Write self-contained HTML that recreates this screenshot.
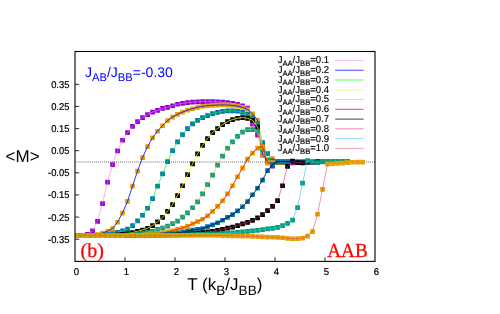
<!DOCTYPE html>
<html>
<head>
<meta charset="utf-8">
<title>Magnetization vs temperature</title>
<style>
html,body{margin:0;padding:0;background:#fff;}
body{width:500px;height:314px;overflow:hidden;font-family:"Liberation Sans",sans-serif;}
svg{display:block;will-change:transform;}
text{font-family:"Liberation Sans",sans-serif;fill:#000;text-rendering:geometricPrecision;}
.t{font-size:9.9px;stroke:#000;stroke-width:0.22px;}
.l{font-size:10px;stroke:#000;stroke-width:0.15px;}
.ls{font-size:8px;}
.big{font-size:17px;}
.bigs{font-size:13.6px;}
.ttl{font-size:14px;fill:#0000ff;}
.ttls{font-size:11.2px;fill:#0000ff;}
.ser{font-family:"Liberation Serif",serif;font-size:20px;fill:#ff0000;stroke:#ff0000;stroke-width:0.3px;}
</style>
</head>
<body>
<svg width="500" height="314" viewBox="0 0 500 314">
<rect x="0" y="0" width="500" height="314" fill="#ffffff"/>
<path d="M75 162H375" stroke="#000" stroke-width="0.8" stroke-dasharray="0.75 1.28" stroke-dashoffset="-0.6" fill="none"/>
<path d="M125 261.4v-4.2M175 261.4v-4.2M225 261.4v-4.2M275 261.4v-4.2M325 261.4v-4.2M75 84.3h4.2M75 106.4h4.2M75 128.6h4.2M75 150.7h4.2M75 172.8h4.2M75 194.9h4.2M75 217.1h4.2M75 239.2h4.2" stroke="#000" stroke-width="0.85" fill="none"/>
<path d="M75.2 233.1h4.7v4.7h-4.7zM80.2 233.1h4.7v4.7h-4.7zM85.2 232h4.7v4.7h-4.7zM90.2 228.6h4.7v4.7h-4.7zM95.2 219h4.7v4.7h-4.7zM100.2 201.2h4.7v4.7h-4.7zM105.2 179.8h4.7v4.7h-4.7zM110.2 162.2h4.7v4.7h-4.7zM115.2 148.5h4.7v4.7h-4.7zM120.2 137.9h4.7v4.7h-4.7zM125.2 130.3h4.7v4.7h-4.7zM130.2 124h4.7v4.7h-4.7zM135.2 119.2h4.7v4.7h-4.7zM140.2 115.2h4.7v4.7h-4.7zM145.2 112.3h4.7v4.7h-4.7zM150.2 109.7h4.7v4.7h-4.7zM155.2 108.1h4.7v4.7h-4.7zM160.2 106.1h4.7v4.7h-4.7zM165.2 105h4.7v4.7h-4.7zM170.2 103.4h4.7v4.7h-4.7zM175.2 101.9h4.7v4.7h-4.7zM180.2 101h4.7v4.7h-4.7zM185.2 100.3h4.7v4.7h-4.7zM190.2 99.8h4.7v4.7h-4.7zM195.2 99.5h4.7v4.7h-4.7zM200.2 99.2h4.7v4.7h-4.7zM205.2 99.2h4.7v4.7h-4.7zM210.2 99.3h4.7v4.7h-4.7zM215.2 99.5h4.7v4.7h-4.7zM220.2 99.8h4.7v4.7h-4.7zM225.2 100.3h4.7v4.7h-4.7zM230.2 101h4.7v4.7h-4.7zM235.2 102h4.7v4.7h-4.7zM240.2 103.5h4.7v4.7h-4.7zM245.2 105.7h4.7v4.7h-4.7zM250.2 121.7h4.7v4.7h-4.7zM255.2 132.7h4.7v4.7h-4.7zM260.2 152.7h4.7v4.7h-4.7zM265.2 160.2h4.7v4.7h-4.7zM270.2 163.7h4.7v4.7h-4.7zM275.2 160.2h4.7v4.7h-4.7zM280.2 160.3h4.7v4.7h-4.7zM285.2 160.4h4.7v4.7h-4.7zM290.2 160.5h4.7v4.7h-4.7zM295.2 160.1h4.7v4.7h-4.7zM300.2 160h4.7v4.7h-4.7zM305.2 160h4.7v4.7h-4.7zM310.2 159.9h4.7v4.7h-4.7zM315.2 158.9h4.7v4.7h-4.7zM320.2 159.3h4.7v4.7h-4.7z" fill="#9400d3"/>
<polyline points="77.5,235.4 82.5,235.4 87.5,234.3 92.5,230.9 97.5,221.3 102.5,203.5 107.5,182.1 112.5,164.5 117.5,150.8 122.5,140.2 127.5,132.6 132.5,126.3 137.5,121.5 142.5,117.5 147.5,114.6 152.5,112 157.5,110.4 162.5,108.4 167.5,107.3 172.5,105.7 177.5,104.2 182.5,103.3 187.5,102.6 192.5,102.1 197.5,101.8 202.5,101.5 207.5,101.5 212.5,101.6 217.5,101.8 222.5,102.1 227.5,102.6 232.5,103.3 237.5,104.3 242.5,105.8 247.5,108 252.5,124 257.5,135 262.5,155 267.5,162.5 272.5,166 277.5,162.5 282.5,162.6" fill="none" stroke="#ee82ee" stroke-width="0.6"/>
<path d="M75.2 233.1h4.7v4.7h-4.7zM80.2 233.1h4.7v4.7h-4.7zM85.2 233.1h4.7v4.7h-4.7zM90.2 233.1h4.7v4.7h-4.7zM95.2 232.2h4.7v4.7h-4.7zM100.2 230.7h4.7v4.7h-4.7zM105.2 229h4.7v4.7h-4.7zM110.2 226.2h4.7v4.7h-4.7zM115.2 219.9h4.7v4.7h-4.7zM120.2 210.7h4.7v4.7h-4.7zM125.2 199.1h4.7v4.7h-4.7zM130.2 183.8h4.7v4.7h-4.7zM135.2 168.8h4.7v4.7h-4.7zM140.2 155.3h4.7v4.7h-4.7zM145.2 144.3h4.7v4.7h-4.7zM150.2 135.5h4.7v4.7h-4.7zM155.2 128.9h4.7v4.7h-4.7zM160.2 123.4h4.7v4.7h-4.7zM165.2 118.3h4.7v4.7h-4.7zM170.2 114.7h4.7v4.7h-4.7zM175.2 112h4.7v4.7h-4.7zM180.2 109.8h4.7v4.7h-4.7zM185.2 107.8h4.7v4.7h-4.7zM190.2 106.4h4.7v4.7h-4.7zM195.2 105h4.7v4.7h-4.7zM200.2 104h4.7v4.7h-4.7zM205.2 103.4h4.7v4.7h-4.7zM210.2 103h4.7v4.7h-4.7zM215.2 102.7h4.7v4.7h-4.7zM220.2 102.6h4.7v4.7h-4.7zM225.2 102.7h4.7v4.7h-4.7zM230.2 103.1h4.7v4.7h-4.7zM235.2 103.8h4.7v4.7h-4.7zM240.2 105h4.7v4.7h-4.7zM245.2 107h4.7v4.7h-4.7zM250.2 111.5h4.7v4.7h-4.7zM255.2 117.7h4.7v4.7h-4.7zM260.2 152.7h4.7v4.7h-4.7zM265.2 157.7h4.7v4.7h-4.7zM270.2 156.2h4.7v4.7h-4.7zM275.2 159.7h4.7v4.7h-4.7zM280.2 159.7h4.7v4.7h-4.7zM285.2 159.7h4.7v4.7h-4.7z" fill="#e69f00"/>
<polyline points="77.5,235.4 82.5,235.4 87.5,235.4 92.5,235.4 97.5,234.5 102.5,233 107.5,231.3 112.5,228.5 117.5,222.2 122.5,213 127.5,201.4 132.5,186.1 137.5,171.1 142.5,157.6 147.5,146.6 152.5,137.8 157.5,131.2 162.5,125.7 167.5,120.6 172.5,117 177.5,114.3 182.5,112.1 187.5,110.1 192.5,108.7 197.5,107.3 202.5,106.3 207.5,105.7 212.5,105.3 217.5,105 222.5,104.9 227.5,105 232.5,105.4 237.5,106.1 242.5,107.3 247.5,109.3 252.5,113.8 257.5,120 262.5,155 267.5,160 272.5,158.5 277.5,162 282.5,162" fill="none" stroke="#0000ff" stroke-width="0.8"/>
<path d="M75.2 233.1h4.7v4.7h-4.7zM80.2 233.1h4.7v4.7h-4.7zM85.2 233.1h4.7v4.7h-4.7zM90.2 233.1h4.7v4.7h-4.7zM95.2 233.1h4.7v4.7h-4.7zM100.2 233.1h4.7v4.7h-4.7zM105.2 232.3h4.7v4.7h-4.7zM110.2 231.2h4.7v4.7h-4.7zM115.2 229.9h4.7v4.7h-4.7zM120.2 228.6h4.7v4.7h-4.7zM125.2 226.8h4.7v4.7h-4.7zM130.2 223.3h4.7v4.7h-4.7zM135.2 218.6h4.7v4.7h-4.7zM140.2 212.9h4.7v4.7h-4.7zM145.2 205.9h4.7v4.7h-4.7zM150.2 196.2h4.7v4.7h-4.7zM155.2 183.8h4.7v4.7h-4.7zM160.2 171.6h4.7v4.7h-4.7zM165.2 159.3h4.7v4.7h-4.7zM170.2 148.3h4.7v4.7h-4.7zM175.2 139.5h4.7v4.7h-4.7zM180.2 132.3h4.7v4.7h-4.7zM185.2 126.3h4.7v4.7h-4.7zM190.2 121.6h4.7v4.7h-4.7zM195.2 118.1h4.7v4.7h-4.7zM200.2 115.3h4.7v4.7h-4.7zM205.2 113.2h4.7v4.7h-4.7zM210.2 111.3h4.7v4.7h-4.7zM215.2 110h4.7v4.7h-4.7zM220.2 109h4.7v4.7h-4.7zM225.2 108.5h4.7v4.7h-4.7zM230.2 108.5h4.7v4.7h-4.7zM235.2 108.9h4.7v4.7h-4.7zM240.2 110.1h4.7v4.7h-4.7zM245.2 111.9h4.7v4.7h-4.7zM250.2 115.5h4.7v4.7h-4.7zM255.2 121h4.7v4.7h-4.7zM260.2 140.2h4.7v4.7h-4.7zM265.2 151.2h4.7v4.7h-4.7zM270.2 159.7h4.7v4.7h-4.7zM275.2 159.7h4.7v4.7h-4.7zM280.2 159.7h4.7v4.7h-4.7zM285.2 159.7h4.7v4.7h-4.7z" fill="#0072b2"/>
<polyline points="77.5,235.4 82.5,235.4 87.5,235.4 92.5,235.4 97.5,235.4 102.5,235.4 107.5,234.6 112.5,233.5 117.5,232.2 122.5,230.9 127.5,229.1 132.5,225.6 137.5,220.9 142.5,215.2 147.5,208.2 152.5,198.5 157.5,186.1 162.5,173.9 167.5,161.6 172.5,150.6 177.5,141.8 182.5,134.6 187.5,128.6 192.5,123.9 197.5,120.4 202.5,117.6 207.5,115.5 212.5,113.6 217.5,112.3 222.5,111.3 227.5,110.8 232.5,110.8 237.5,111.2 242.5,112.4 247.5,114.2 252.5,117.8 257.5,123.3 262.5,142.5 267.5,153.5 272.5,162 277.5,162 282.5,162" fill="none" stroke="#00ff00" stroke-width="0.7"/>
<path d="M75.2 233.1h4.7v4.7h-4.7zM80.2 233.1h4.7v4.7h-4.7zM85.2 233.1h4.7v4.7h-4.7zM90.2 233.1h4.7v4.7h-4.7zM95.2 233.1h4.7v4.7h-4.7zM100.2 233.1h4.7v4.7h-4.7zM105.2 233.1h4.7v4.7h-4.7zM110.2 233.1h4.7v4.7h-4.7zM115.2 232.6h4.7v4.7h-4.7zM120.2 232.1h4.7v4.7h-4.7zM125.2 231.3h4.7v4.7h-4.7zM130.2 230.2h4.7v4.7h-4.7zM135.2 229h4.7v4.7h-4.7zM140.2 227.7h4.7v4.7h-4.7zM145.2 226h4.7v4.7h-4.7zM150.2 223.3h4.7v4.7h-4.7zM155.2 219.5h4.7v4.7h-4.7zM160.2 215.1h4.7v4.7h-4.7zM165.2 209h4.7v4.7h-4.7zM170.2 202.2h4.7v4.7h-4.7zM175.2 193.3h4.7v4.7h-4.7zM180.2 183.4h4.7v4.7h-4.7zM185.2 172.2h4.7v4.7h-4.7zM190.2 161.6h4.7v4.7h-4.7zM195.2 151.5h4.7v4.7h-4.7zM200.2 143.1h4.7v4.7h-4.7zM205.2 136.3h4.7v4.7h-4.7zM210.2 130.2h4.7v4.7h-4.7zM215.2 126.2h4.7v4.7h-4.7zM220.2 122.3h4.7v4.7h-4.7zM225.2 119.3h4.7v4.7h-4.7zM230.2 117.3h4.7v4.7h-4.7zM235.2 115.9h4.7v4.7h-4.7zM240.2 115.2h4.7v4.7h-4.7zM245.2 116h4.7v4.7h-4.7zM250.2 117.9h4.7v4.7h-4.7zM255.2 124.4h4.7v4.7h-4.7zM260.2 143.7h4.7v4.7h-4.7zM265.2 158.2h4.7v4.7h-4.7zM270.2 159.7h4.7v4.7h-4.7zM275.2 159.7h4.7v4.7h-4.7zM280.2 159.7h4.7v4.7h-4.7zM285.2 159.7h4.7v4.7h-4.7z" fill="#000000"/>
<polyline points="77.5,235.4 82.5,235.4 87.5,235.4 92.5,235.4 97.5,235.4 102.5,235.4 107.5,235.4 112.5,235.4 117.5,234.9 122.5,234.4 127.5,233.6 132.5,232.5 137.5,231.3 142.5,230 147.5,228.3 152.5,225.6 157.5,221.8 162.5,217.4 167.5,211.3 172.5,204.5 177.5,195.6 182.5,185.7 187.5,174.5 192.5,163.9 197.5,153.8 202.5,145.4 207.5,138.6 212.5,132.5 217.5,128.5 222.5,124.6 227.5,121.6 232.5,119.6 237.5,118.2 242.5,117.5 247.5,118.3 252.5,120.2 257.5,126.7 262.5,146 267.5,160.5 272.5,162 277.5,162 282.5,162" fill="none" stroke="#ffff00" stroke-width="0.8"/>
<path d="M75.2 233.1h4.7v4.7h-4.7zM80.2 233.1h4.7v4.7h-4.7zM85.2 233.1h4.7v4.7h-4.7zM90.2 233.1h4.7v4.7h-4.7zM95.2 233.1h4.7v4.7h-4.7zM100.2 233.1h4.7v4.7h-4.7zM105.2 233.1h4.7v4.7h-4.7zM110.2 233.1h4.7v4.7h-4.7zM115.2 233.1h4.7v4.7h-4.7zM120.2 233.1h4.7v4.7h-4.7zM125.2 232.8h4.7v4.7h-4.7zM130.2 232.4h4.7v4.7h-4.7zM135.2 231.8h4.7v4.7h-4.7zM140.2 230.9h4.7v4.7h-4.7zM145.2 229.9h4.7v4.7h-4.7zM150.2 229.1h4.7v4.7h-4.7zM155.2 227h4.7v4.7h-4.7zM160.2 225.7h4.7v4.7h-4.7zM165.2 223.7h4.7v4.7h-4.7zM170.2 221.2h4.7v4.7h-4.7zM175.2 218.7h4.7v4.7h-4.7zM180.2 214.8h4.7v4.7h-4.7zM185.2 210.6h4.7v4.7h-4.7zM190.2 205.4h4.7v4.7h-4.7zM195.2 199.6h4.7v4.7h-4.7zM200.2 191.5h4.7v4.7h-4.7zM205.2 182.2h4.7v4.7h-4.7zM210.2 172.8h4.7v4.7h-4.7zM215.2 162.8h4.7v4.7h-4.7zM220.2 153.7h4.7v4.7h-4.7zM225.2 145.9h4.7v4.7h-4.7zM230.2 139.5h4.7v4.7h-4.7zM235.2 134.1h4.7v4.7h-4.7zM240.2 129.8h4.7v4.7h-4.7zM245.2 127.3h4.7v4.7h-4.7zM250.2 127.3h4.7v4.7h-4.7zM255.2 129.1h4.7v4.7h-4.7zM260.2 147.7h4.7v4.7h-4.7zM265.2 157.7h4.7v4.7h-4.7zM270.2 159.7h4.7v4.7h-4.7zM275.2 159.7h4.7v4.7h-4.7zM280.2 159.7h4.7v4.7h-4.7zM285.2 159.7h4.7v4.7h-4.7z" fill="#009e73"/>
<polyline points="77.5,235.4 82.5,235.4 87.5,235.4 92.5,235.4 97.5,235.4 102.5,235.4 107.5,235.4 112.5,235.4 117.5,235.4 122.5,235.4 127.5,235.1 132.5,234.7 137.5,234.1 142.5,233.2 147.5,232.2 152.5,231.4 157.5,229.3 162.5,228 167.5,226 172.5,223.5 177.5,221 182.5,217.1 187.5,212.9 192.5,207.7 197.5,201.9 202.5,193.8 207.5,184.5 212.5,175.1 217.5,165.1 222.5,156 227.5,148.2 232.5,141.8 237.5,136.4 242.5,132.1 247.5,129.6 252.5,129.6 257.5,131.4 262.5,150 267.5,160 272.5,162 277.5,162 282.5,162" fill="none" stroke="#ffa83a" stroke-width="0.6"/>
<path d="M75.2 233.1h4.7v4.7h-4.7zM80.2 233.1h4.7v4.7h-4.7zM85.2 233.1h4.7v4.7h-4.7zM90.2 233.1h4.7v4.7h-4.7zM95.2 233.1h4.7v4.7h-4.7zM100.2 233.1h4.7v4.7h-4.7zM105.2 233.1h4.7v4.7h-4.7zM110.2 233.1h4.7v4.7h-4.7zM115.2 233.1h4.7v4.7h-4.7zM120.2 233.1h4.7v4.7h-4.7zM125.2 233.1h4.7v4.7h-4.7zM130.2 233.1h4.7v4.7h-4.7zM135.2 233h4.7v4.7h-4.7zM140.2 232.9h4.7v4.7h-4.7zM145.2 232.6h4.7v4.7h-4.7zM150.2 232.2h4.7v4.7h-4.7zM155.2 231.6h4.7v4.7h-4.7zM160.2 230.7h4.7v4.7h-4.7zM165.2 229.6h4.7v4.7h-4.7zM170.2 228.4h4.7v4.7h-4.7zM175.2 227h4.7v4.7h-4.7zM180.2 225.7h4.7v4.7h-4.7zM185.2 224.1h4.7v4.7h-4.7zM190.2 221.5h4.7v4.7h-4.7zM195.2 219.2h4.7v4.7h-4.7zM200.2 216.9h4.7v4.7h-4.7zM205.2 213.5h4.7v4.7h-4.7zM210.2 209h4.7v4.7h-4.7zM215.2 204.1h4.7v4.7h-4.7zM220.2 198.6h4.7v4.7h-4.7zM225.2 191.5h4.7v4.7h-4.7zM230.2 183.4h4.7v4.7h-4.7zM235.2 174.4h4.7v4.7h-4.7zM240.2 165.7h4.7v4.7h-4.7zM245.2 156.7h4.7v4.7h-4.7zM250.2 150.7h4.7v4.7h-4.7zM255.2 145.7h4.7v4.7h-4.7zM260.2 144.2h4.7v4.7h-4.7zM265.2 160.7h4.7v4.7h-4.7zM270.2 160.2h4.7v4.7h-4.7zM275.2 159.9h4.7v4.7h-4.7zM280.2 159.7h4.7v4.7h-4.7zM285.2 159.7h4.7v4.7h-4.7z" fill="#e69f00"/>
<polyline points="77.5,235.4 82.5,235.4 87.5,235.4 92.5,235.4 97.5,235.4 102.5,235.4 107.5,235.4 112.5,235.4 117.5,235.4 122.5,235.4 127.5,235.4 132.5,235.4 137.5,235.4 142.5,235.2 147.5,234.9 152.5,234.5 157.5,233.9 162.5,233 167.5,231.9 172.5,230.7 177.5,229.3 182.5,228 187.5,226.4 192.5,223.8 197.5,221.5 202.5,219.2 207.5,215.8 212.5,211.3 217.5,206.4 222.5,200.9 227.5,193.8 232.5,185.7 237.5,176.7 242.5,168 247.5,159 252.5,153 257.5,148 262.5,146.5 267.5,163 272.5,162.5 277.5,162.2 282.5,162.1" fill="none" stroke="#ff0000" stroke-width="0.8"/>
<path d="M75.2 233.1h4.7v4.7h-4.7zM80.2 233.1h4.7v4.7h-4.7zM85.2 233.1h4.7v4.7h-4.7zM90.2 233.1h4.7v4.7h-4.7zM95.2 233.1h4.7v4.7h-4.7zM100.2 233.1h4.7v4.7h-4.7zM105.2 233.1h4.7v4.7h-4.7zM110.2 233.1h4.7v4.7h-4.7zM115.2 233.1h4.7v4.7h-4.7zM120.2 233.1h4.7v4.7h-4.7zM125.2 233.1h4.7v4.7h-4.7zM130.2 233.1h4.7v4.7h-4.7zM135.2 233.1h4.7v4.7h-4.7zM140.2 233.1h4.7v4.7h-4.7zM145.2 233h4.7v4.7h-4.7zM150.2 232.9h4.7v4.7h-4.7zM155.2 232.7h4.7v4.7h-4.7zM160.2 232.4h4.7v4.7h-4.7zM165.2 232h4.7v4.7h-4.7zM170.2 231.5h4.7v4.7h-4.7zM175.2 230.8h4.7v4.7h-4.7zM180.2 229.9h4.7v4.7h-4.7zM185.2 228.8h4.7v4.7h-4.7zM190.2 227.8h4.7v4.7h-4.7zM195.2 227.1h4.7v4.7h-4.7zM200.2 226.2h4.7v4.7h-4.7zM205.2 224.3h4.7v4.7h-4.7zM210.2 222.5h4.7v4.7h-4.7zM215.2 220.4h4.7v4.7h-4.7zM220.2 217.9h4.7v4.7h-4.7zM225.2 215h4.7v4.7h-4.7zM230.2 212.3h4.7v4.7h-4.7zM235.2 208.6h4.7v4.7h-4.7zM240.2 204.4h4.7v4.7h-4.7zM245.2 199.3h4.7v4.7h-4.7zM250.2 192.4h4.7v4.7h-4.7zM255.2 185.9h4.7v4.7h-4.7zM260.2 177.7h4.7v4.7h-4.7zM265.2 168.2h4.7v4.7h-4.7zM270.2 162.2h4.7v4.7h-4.7zM275.2 159.2h4.7v4.7h-4.7zM280.2 159.2h4.7v4.7h-4.7zM285.2 159.2h4.7v4.7h-4.7zM290.2 159.2h4.7v4.7h-4.7zM295.2 159.3h4.7v4.7h-4.7zM300.2 159.3h4.7v4.7h-4.7zM305.2 159.3h4.7v4.7h-4.7z" fill="#0072b2"/>
<polyline points="77.5,235.4 82.5,235.4 87.5,235.4 92.5,235.4 97.5,235.4 102.5,235.4 107.5,235.4 112.5,235.4 117.5,235.4 122.5,235.4 127.5,235.4 132.5,235.4 137.5,235.4 142.5,235.4 147.5,235.4 152.5,235.2 157.5,235 162.5,234.7 167.5,234.3 172.5,233.8 177.5,233.1 182.5,232.2 187.5,231.1 192.5,230.1 197.5,229.4 202.5,228.5 207.5,226.6 212.5,224.8 217.5,222.7 222.5,220.2 227.5,217.3 232.5,214.6 237.5,210.9 242.5,206.7 247.5,201.6 252.5,194.7 257.5,188.2 262.5,180 267.5,170.5 272.5,164.5 277.5,161.5 282.5,161.5 287.5,161.5 292.5,161.6 297.5,161.6" fill="none" stroke="#000000" stroke-width="0.8"/>
<path d="M75.2 233.1h4.7v4.7h-4.7zM80.2 233.1h4.7v4.7h-4.7zM85.2 233.1h4.7v4.7h-4.7zM90.2 233.1h4.7v4.7h-4.7zM95.2 233.1h4.7v4.7h-4.7zM100.2 233.1h4.7v4.7h-4.7zM105.2 233.1h4.7v4.7h-4.7zM110.2 233.1h4.7v4.7h-4.7zM115.2 233.1h4.7v4.7h-4.7zM120.2 233.1h4.7v4.7h-4.7zM125.2 233.1h4.7v4.7h-4.7zM130.2 233.1h4.7v4.7h-4.7zM135.2 233.1h4.7v4.7h-4.7zM140.2 233.1h4.7v4.7h-4.7zM145.2 233.1h4.7v4.7h-4.7zM150.2 233.1h4.7v4.7h-4.7zM155.2 233h4.7v4.7h-4.7zM160.2 232.9h4.7v4.7h-4.7zM165.2 232.7h4.7v4.7h-4.7zM170.2 232.6h4.7v4.7h-4.7zM175.2 232.4h4.7v4.7h-4.7zM180.2 232.2h4.7v4.7h-4.7zM185.2 231.8h4.7v4.7h-4.7zM190.2 231.4h4.7v4.7h-4.7zM195.2 230.9h4.7v4.7h-4.7zM200.2 230.3h4.7v4.7h-4.7zM205.2 229.6h4.7v4.7h-4.7zM210.2 228.9h4.7v4.7h-4.7zM215.2 228h4.7v4.7h-4.7zM220.2 227h4.7v4.7h-4.7zM225.2 225.8h4.7v4.7h-4.7zM230.2 224.8h4.7v4.7h-4.7zM235.2 223.3h4.7v4.7h-4.7zM240.2 221.5h4.7v4.7h-4.7zM245.2 220h4.7v4.7h-4.7zM250.2 218.1h4.7v4.7h-4.7zM255.2 215.6h4.7v4.7h-4.7zM260.2 212.3h4.7v4.7h-4.7zM265.2 208.3h4.7v4.7h-4.7zM270.2 204.1h4.7v4.7h-4.7zM275.2 198.2h4.7v4.7h-4.7zM280.2 183.4h4.7v4.7h-4.7zM285.2 164h4.7v4.7h-4.7zM290.2 158.7h4.7v4.7h-4.7zM295.2 160.3h4.7v4.7h-4.7zM300.2 160.5h4.7v4.7h-4.7zM305.2 159.9h4.7v4.7h-4.7zM310.2 159.7h4.7v4.7h-4.7zM315.2 159.7h4.7v4.7h-4.7z" fill="#000000"/>
<polyline points="77.5,235.4 82.5,235.4 87.5,235.4 92.5,235.4 97.5,235.4 102.5,235.4 107.5,235.4 112.5,235.4 117.5,235.4 122.5,235.4 127.5,235.4 132.5,235.4 137.5,235.4 142.5,235.4 147.5,235.4 152.5,235.4 157.5,235.4 162.5,235.2 167.5,235.1 172.5,234.9 177.5,234.7 182.5,234.5 187.5,234.1 192.5,233.7 197.5,233.2 202.5,232.6 207.5,231.9 212.5,231.2 217.5,230.3 222.5,229.3 227.5,228.1 232.5,227.1 237.5,225.6 242.5,223.8 247.5,222.3 252.5,220.4 257.5,217.9 262.5,214.6 267.5,210.6 272.5,206.4 277.5,200.5 282.5,185.7 287.5,166.3 292.5,161 297.5,162.6 302.5,162.8 307.5,162.2" fill="none" stroke="#dc2a64" stroke-width="0.6"/>
<path d="M75.2 232.9h4.7v4.7h-4.7zM80.2 232.9h4.7v4.7h-4.7zM85.2 232.9h4.7v4.7h-4.7zM90.2 232.9h4.7v4.7h-4.7zM95.2 232.9h4.7v4.7h-4.7zM100.2 232.9h4.7v4.7h-4.7zM105.2 232.9h4.7v4.7h-4.7zM110.2 232.9h4.7v4.7h-4.7zM115.2 232.9h4.7v4.7h-4.7zM120.2 232.9h4.7v4.7h-4.7zM125.2 232.9h4.7v4.7h-4.7zM130.2 232.9h4.7v4.7h-4.7zM135.2 232.9h4.7v4.7h-4.7zM140.2 232.9h4.7v4.7h-4.7zM145.2 232.9h4.7v4.7h-4.7zM150.2 232.9h4.7v4.7h-4.7zM155.2 232.9h4.7v4.7h-4.7zM160.2 232.9h4.7v4.7h-4.7zM165.2 232.8h4.7v4.7h-4.7zM170.2 232.8h4.7v4.7h-4.7zM175.2 232.7h4.7v4.7h-4.7zM180.2 232.6h4.7v4.7h-4.7zM185.2 232.4h4.7v4.7h-4.7zM190.2 232.3h4.7v4.7h-4.7zM195.2 232.1h4.7v4.7h-4.7zM200.2 231.9h4.7v4.7h-4.7zM205.2 231.8h4.7v4.7h-4.7zM210.2 231.6h4.7v4.7h-4.7zM215.2 231.4h4.7v4.7h-4.7zM220.2 231.1h4.7v4.7h-4.7zM225.2 230.8h4.7v4.7h-4.7zM230.2 230.5h4.7v4.7h-4.7zM235.2 230h4.7v4.7h-4.7zM240.2 229.6h4.7v4.7h-4.7zM245.2 229.1h4.7v4.7h-4.7zM250.2 228.6h4.7v4.7h-4.7zM255.2 228h4.7v4.7h-4.7zM260.2 227.3h4.7v4.7h-4.7zM265.2 226.5h4.7v4.7h-4.7zM270.2 226h4.7v4.7h-4.7zM275.2 225h4.7v4.7h-4.7zM280.2 223.3h4.7v4.7h-4.7zM285.2 221.1h4.7v4.7h-4.7zM290.2 217.7h4.7v4.7h-4.7zM295.2 205.3h4.7v4.7h-4.7zM300.2 180.8h4.7v4.7h-4.7zM305.2 158.2h4.7v4.7h-4.7zM310.2 159.3h4.7v4.7h-4.7zM315.2 160.3h4.7v4.7h-4.7zM320.2 159.5h4.7v4.7h-4.7zM325.2 159h4.7v4.7h-4.7zM330.2 159h4.7v4.7h-4.7zM335.2 159h4.7v4.7h-4.7zM340.2 158.9h4.7v4.7h-4.7zM345.2 158.9h4.7v4.7h-4.7z" fill="#009e73"/>
<polyline points="77.5,235.2 82.5,235.2 87.5,235.2 92.5,235.2 97.5,235.2 102.5,235.2 107.5,235.2 112.5,235.2 117.5,235.2 122.5,235.2 127.5,235.2 132.5,235.2 137.5,235.2 142.5,235.2 147.5,235.2 152.5,235.2 157.5,235.2 162.5,235.2 167.5,235.2 172.5,235.1 177.5,235 182.5,234.9 187.5,234.8 192.5,234.6 197.5,234.4 202.5,234.2 207.5,234.1 212.5,233.9 217.5,233.7 222.5,233.4 227.5,233.1 232.5,232.8 237.5,232.4 242.5,231.9 247.5,231.4 252.5,230.9 257.5,230.3 262.5,229.6 267.5,228.8 272.5,228.3 277.5,227.3 282.5,225.6 287.5,223.4 292.5,220 297.5,207.6 302.5,183.1 307.5,160.5 312.5,161.6 317.5,162.6" fill="none" stroke="#30b8f8" stroke-width="0.6"/>
<path d="M75.2 233.2h4.7v4.7h-4.7zM80.2 233.2h4.7v4.7h-4.7zM85.2 233.2h4.7v4.7h-4.7zM90.2 233.2h4.7v4.7h-4.7zM95.2 233.2h4.7v4.7h-4.7zM100.2 233.2h4.7v4.7h-4.7zM105.2 233.2h4.7v4.7h-4.7zM110.2 233.2h4.7v4.7h-4.7zM115.2 233.2h4.7v4.7h-4.7zM120.2 233.2h4.7v4.7h-4.7zM125.2 233.1h4.7v4.7h-4.7zM130.2 233.1h4.7v4.7h-4.7zM135.2 233.1h4.7v4.7h-4.7zM140.2 233.1h4.7v4.7h-4.7zM145.2 233.1h4.7v4.7h-4.7zM150.2 233.1h4.7v4.7h-4.7zM155.2 233.1h4.7v4.7h-4.7zM160.2 233.1h4.7v4.7h-4.7zM165.2 233.1h4.7v4.7h-4.7zM170.2 233.1h4.7v4.7h-4.7zM175.2 233.1h4.7v4.7h-4.7zM180.2 233.1h4.7v4.7h-4.7zM185.2 233.1h4.7v4.7h-4.7zM190.2 233.1h4.7v4.7h-4.7zM195.2 233.1h4.7v4.7h-4.7zM200.2 233.1h4.7v4.7h-4.7zM205.2 233.1h4.7v4.7h-4.7zM210.2 233.1h4.7v4.7h-4.7zM215.2 233.1h4.7v4.7h-4.7zM220.2 233.2h4.7v4.7h-4.7zM225.2 233.3h4.7v4.7h-4.7zM230.2 233.5h4.7v4.7h-4.7zM235.2 233.6h4.7v4.7h-4.7zM240.2 233.8h4.7v4.7h-4.7zM245.2 233.9h4.7v4.7h-4.7zM250.2 234.1h4.7v4.7h-4.7zM255.2 234.3h4.7v4.7h-4.7zM260.2 234.5h4.7v4.7h-4.7zM265.2 234.7h4.7v4.7h-4.7zM270.2 234.9h4.7v4.7h-4.7zM275.2 235.1h4.7v4.7h-4.7zM280.2 235.4h4.7v4.7h-4.7zM285.2 236.1h4.7v4.7h-4.7zM290.2 236.4h4.7v4.7h-4.7zM295.2 236.2h4.7v4.7h-4.7zM300.2 235.8h4.7v4.7h-4.7zM305.2 233.8h4.7v4.7h-4.7zM310.2 229.2h4.7v4.7h-4.7zM315.2 211.9h4.7v4.7h-4.7zM320.2 187.1h4.7v4.7h-4.7zM325.2 161.8h4.7v4.7h-4.7zM330.2 161.4h4.7v4.7h-4.7zM335.2 161h4.7v4.7h-4.7zM340.2 160.7h4.7v4.7h-4.7zM345.2 160.3h4.7v4.7h-4.7zM350.2 159.9h4.7v4.7h-4.7zM355.2 159.7h4.7v4.7h-4.7zM360.2 159.7h4.7v4.7h-4.7z" fill="#e69f00"/>
<polyline points="77.5,235.5 82.5,235.5 87.5,235.5 92.5,235.5 97.5,235.5 102.5,235.5 107.5,235.5 112.5,235.5 117.5,235.5 122.5,235.5 127.5,235.5 132.5,235.5 137.5,235.5 142.5,235.5 147.5,235.5 152.5,235.5 157.5,235.5 162.5,235.4 167.5,235.4 172.5,235.4 177.5,235.4 182.5,235.4 187.5,235.4 192.5,235.4 197.5,235.4 202.5,235.4 207.5,235.4 212.5,235.4 217.5,235.4 222.5,235.5 227.5,235.6 232.5,235.8 237.5,235.9 242.5,236.1 247.5,236.3 252.5,236.4 257.5,236.6 262.5,236.8 267.5,237 272.5,237.2 277.5,237.4 282.5,237.7 287.5,238.4 292.5,238.7 297.5,238.5 302.5,238.1 307.5,236.1 312.5,231.5 317.5,214.2 322.5,189.4 327.5,164.1" fill="none" stroke="#f03c50" stroke-width="0.55"/>
<rect x="75" y="51.5" width="300" height="209.9" fill="none" stroke="#000" stroke-width="1.1"/>
<text transform="translate(69.4 87.8) scale(0.95 1)" text-anchor="end" class="t">0.35</text>
<text transform="translate(69.4 109.9) scale(0.95 1)" text-anchor="end" class="t">0.25</text>
<text transform="translate(69.4 132.1) scale(0.95 1)" text-anchor="end" class="t">0.15</text>
<text transform="translate(69.4 154.2) scale(0.95 1)" text-anchor="end" class="t">0.05</text>
<text transform="translate(69.4 176.3) scale(0.95 1)" text-anchor="end" class="t">-0.05</text>
<text transform="translate(69.4 198.4) scale(0.95 1)" text-anchor="end" class="t">-0.15</text>
<text transform="translate(69.4 220.6) scale(0.95 1)" text-anchor="end" class="t">-0.25</text>
<text transform="translate(69.4 242.7) scale(0.95 1)" text-anchor="end" class="t">-0.35</text>
<text transform="translate(76.3 274.8) scale(0.97 1)" text-anchor="middle" class="t">0</text>
<text transform="translate(126.3 274.8) scale(0.97 1)" text-anchor="middle" class="t">1</text>
<text transform="translate(176.3 274.8) scale(0.97 1)" text-anchor="middle" class="t">2</text>
<text transform="translate(226.3 274.8) scale(0.97 1)" text-anchor="middle" class="t">3</text>
<text transform="translate(276.3 274.8) scale(0.97 1)" text-anchor="middle" class="t">4</text>
<text transform="translate(326.3 274.8) scale(0.97 1)" text-anchor="middle" class="t">5</text>
<text transform="translate(376.3 274.8) scale(0.97 1)" text-anchor="middle" class="t">6</text>
<text transform="translate(329.1 63.4) scale(0.955 1)" text-anchor="end" class="l">J<tspan class="ls" dy="2.4">AA</tspan><tspan dy="-2.4">/J</tspan><tspan class="ls" dy="2.4">BB</tspan><tspan dy="-2.4">=0.1</tspan></text>
<path d="M335.2 60.5H363.6" stroke="#ee82ee" stroke-width="0.5499999999999999" fill="none"/>
<text transform="translate(329.1 73.1) scale(0.955 1)" text-anchor="end" class="l">J<tspan class="ls" dy="2.4">AA</tspan><tspan dy="-2.4">/J</tspan><tspan class="ls" dy="2.4">BB</tspan><tspan dy="-2.4">=0.2</tspan></text>
<path d="M335.2 70.2H363.6" stroke="#0000ff" stroke-width="0.75" fill="none"/>
<text transform="translate(329.1 82.9) scale(0.955 1)" text-anchor="end" class="l">J<tspan class="ls" dy="2.4">AA</tspan><tspan dy="-2.4">/J</tspan><tspan class="ls" dy="2.4">BB</tspan><tspan dy="-2.4">=0.3</tspan></text>
<path d="M335.2 80H363.6" stroke="#00ff00" stroke-width="0.6499999999999999" fill="none"/>
<text transform="translate(329.1 92.7) scale(0.955 1)" text-anchor="end" class="l">J<tspan class="ls" dy="2.4">AA</tspan><tspan dy="-2.4">/J</tspan><tspan class="ls" dy="2.4">BB</tspan><tspan dy="-2.4">=0.4</tspan></text>
<path d="M335.2 89.8H363.6" stroke="#ffff00" stroke-width="0.75" fill="none"/>
<text transform="translate(329.1 102.4) scale(0.955 1)" text-anchor="end" class="l">J<tspan class="ls" dy="2.4">AA</tspan><tspan dy="-2.4">/J</tspan><tspan class="ls" dy="2.4">BB</tspan><tspan dy="-2.4">=0.5</tspan></text>
<path d="M335.2 99.5H363.6" stroke="#ffa83a" stroke-width="0.5499999999999999" fill="none"/>
<text transform="translate(329.1 112.2) scale(0.955 1)" text-anchor="end" class="l">J<tspan class="ls" dy="2.4">AA</tspan><tspan dy="-2.4">/J</tspan><tspan class="ls" dy="2.4">BB</tspan><tspan dy="-2.4">=0.6</tspan></text>
<path d="M335.2 109.3H363.6" stroke="#ff0000" stroke-width="0.75" fill="none"/>
<text transform="translate(329.1 122) scale(0.955 1)" text-anchor="end" class="l">J<tspan class="ls" dy="2.4">AA</tspan><tspan dy="-2.4">/J</tspan><tspan class="ls" dy="2.4">BB</tspan><tspan dy="-2.4">=0.7</tspan></text>
<path d="M335.2 119.1H363.6" stroke="#000000" stroke-width="0.75" fill="none"/>
<text transform="translate(329.1 131.7) scale(0.955 1)" text-anchor="end" class="l">J<tspan class="ls" dy="2.4">AA</tspan><tspan dy="-2.4">/J</tspan><tspan class="ls" dy="2.4">BB</tspan><tspan dy="-2.4">=0.8</tspan></text>
<path d="M335.2 128.8H363.6" stroke="#dc2a64" stroke-width="0.5499999999999999" fill="none"/>
<text transform="translate(329.1 141.5) scale(0.955 1)" text-anchor="end" class="l">J<tspan class="ls" dy="2.4">AA</tspan><tspan dy="-2.4">/J</tspan><tspan class="ls" dy="2.4">BB</tspan><tspan dy="-2.4">=0.9</tspan></text>
<path d="M335.2 138.6H363.6" stroke="#30b8f8" stroke-width="0.5499999999999999" fill="none"/>
<text transform="translate(329.1 151.3) scale(0.955 1)" text-anchor="end" class="l">J<tspan class="ls" dy="2.4">AA</tspan><tspan dy="-2.4">/J</tspan><tspan class="ls" dy="2.4">BB</tspan><tspan dy="-2.4">=1.0</tspan></text>
<path d="M335.2 148.4H363.6" stroke="#f03c50" stroke-width="0.5" fill="none"/>
<text x="85" y="77.2" class="ttl">J<tspan class="ttls" dy="4">AB</tspan><tspan dy="-4">/J</tspan><tspan class="ttls" dy="4">BB</tspan><tspan dy="-4">=-0.30</tspan></text>
<text x="5.6" y="162" class="big">&lt;M&gt;</text>
<text x="187.3" y="290" class="big">T (k<tspan class="bigs" dy="5">B</tspan><tspan dy="-5">/J</tspan><tspan class="bigs" dy="5">BB</tspan><tspan dy="-5">)</tspan></text>
<text x="80.6" y="256.9" class="ser" textLength="23.2" lengthAdjust="spacingAndGlyphs">(b)</text>
<text x="327.3" y="257.3" class="ser" textLength="40.4" lengthAdjust="spacingAndGlyphs">AAB</text>
</svg>
</body>
</html>
